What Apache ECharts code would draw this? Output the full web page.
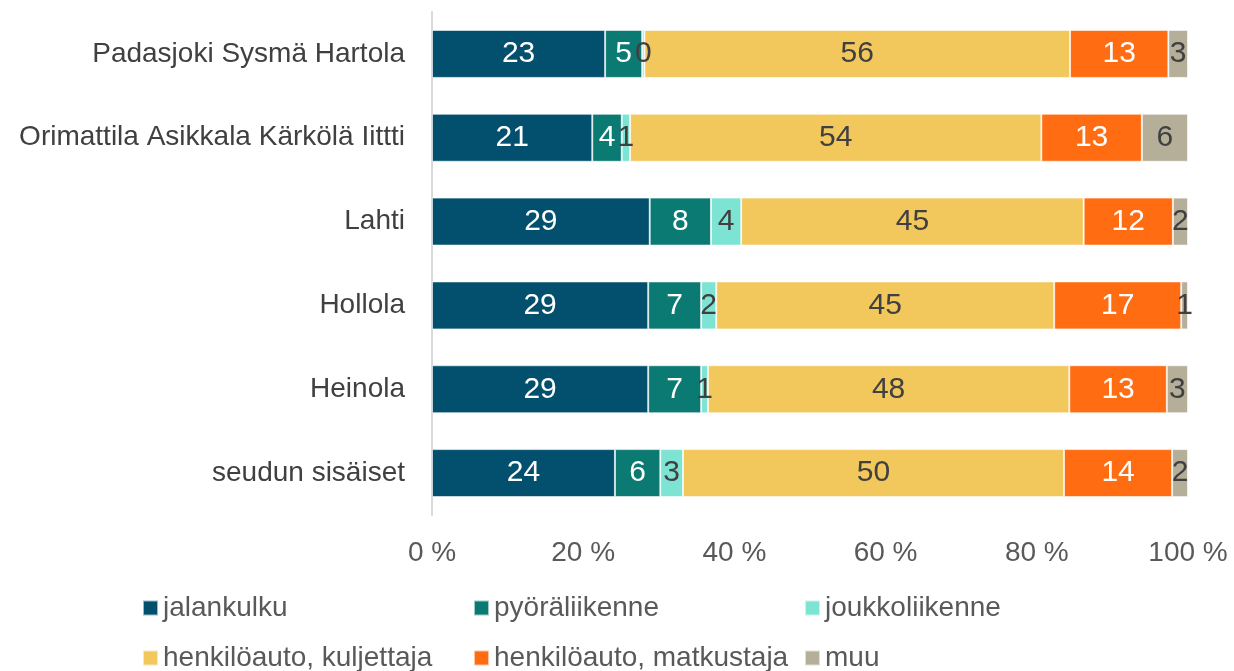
<!DOCTYPE html>
<html>
<head>
<meta charset="utf-8">
<script src="https://cdn.jsdelivr.net/npm/echarts@6/dist/echarts.min.js"></script>
<style>
html, body { margin: 0; padding: 0; background: #fff; }
#chart { width: 1234px; height: 671px; }
</style>
</head>
<body>
<div id="chart"></div>
<script>
// alueet ylhäältä alas
let categories = ['Padasjoki Sysmä Hartola', 'Orimattila Asikkala Kärkölä Iittti', 'Lahti', 'Hollola', 'Heinola', 'seudun sisäiset'];
let seriesNames = ['jalankulku', 'pyöräliikenne', 'joukkoliikenne', 'henkilöauto, kuljettaja', 'henkilöauto, matkustaja', 'muu'];
let colors = ['#02506E', '#0B7A72', '#7DE3D3', '#F2C75C', '#FF6C12', '#B5AF9A'];
let labelColors = ['#fff', '#fff', '#404040', '#404040', '#fff', '#404040'];

// osuudet (%), luettu kuvasta
let jalankulku = [22.9, 21.2, 28.8, 28.6, 28.6, 24.2];
let pyora = [4.9, 3.9, 8.1, 7.0, 7.0, 6.0];
let joukko = [0.3, 1.1, 4.0, 2.0, 0.9, 3.0];
let kuljettaja = [56.3, 54.4, 45.3, 44.7, 47.8, 50.4];
let matkustaja = [13.0, 13.3, 11.8, 16.8, 12.9, 14.3];
let muu = [2.6, 6.1, 2.0, 0.9, 2.8, 2.1];

let xTicks = [0, 20, 40, 60, 80, 100];

let allData = [jalankulku, pyora, joukko, kuljettaja, matkustaja, muu];
let fontFam = '"Liberation Sans", Arial, sans-serif';
let fs = 28;

let series = seriesNames.map(function (name, i) {
  return {
    name: name,
    type: 'bar',
    stack: 'total',
    barWidth: 48,
    data: allData[i],
    itemStyle: { color: colors[i], borderColor: 'rgba(255,255,255,0.6)', borderWidth: 1 },
    label: {
      show: true,
      position: 'inside',
      color: labelColors[i],
      fontSize: 30,
      fontFamily: fontFam,
      formatter: function (p) { return Math.round(p.value); }
    }
  };
});

var myChart = echarts.init(document.getElementById('chart'));
var option = {
  animation: false,
  textStyle: { fontFamily: fontFam },
  grid: { left: 432, right: 46, top: 12, bottom: 156, containLabel: false },
  xAxis: {
    type: 'value',
    min: xTicks[0],
    max: xTicks[xTicks.length - 1],
    interval: 20,
    axisLine: { show: false },
    axisTick: { show: false },
    splitLine: { show: false },
    axisLabel: {
      color: '#595959', fontSize: fs, fontFamily: fontFam, margin: 24,
      formatter: function (v) { return v + ' %'; }
    }
  },
  yAxis: {
    type: 'category',
    inverse: true,
    data: categories,
    axisLine: { show: true, lineStyle: { color: '#D9D9D9', width: 2 } },
    axisTick: { show: false },
    axisLabel: { color: '#404040', fontSize: fs, fontFamily: fontFam, margin: 27 }
  },
  legend: {
    left: 137,
    top: 582,
    width: 1050,
    itemWidth: 15,
    itemHeight: 15,
    itemGap: 8,
    icon: 'rect',
    data: seriesNames,
    textStyle: { color: '#595959', fontSize: fs, fontFamily: fontFam, width: 302, lineHeight: 42 }
  },
  series: series
};
myChart.setOption(option);
</script>
</body>
</html>
